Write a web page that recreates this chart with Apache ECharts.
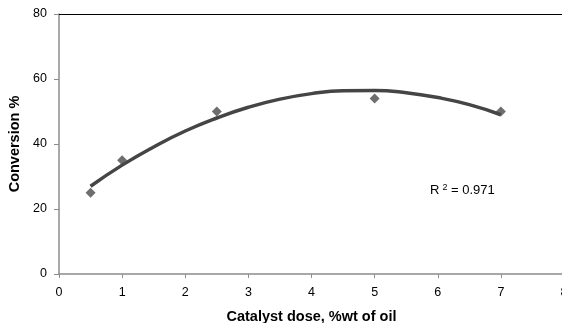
<!DOCTYPE html>
<html>
<head>
<meta charset="utf-8">
<script src="https://cdn.jsdelivr.net/npm/echarts@6/dist/echarts.min.js"></script>
<style>
  html, body { margin: 0; padding: 0; background: #fff; }
  #chart { width: 562px; height: 323px; }
</style>
</head>
<body>
<div id="chart"></div>
<script>
// measured points
var doseX = [0.5, 1, 2.5, 5, 7];
var conversionY = [25, 35, 50, 54, 50];
// polynomial trend line
var trendX = [0.5, 1, 1.5, 2, 2.5, 3, 3.5, 4, 4.5, 5, 5.5, 6, 6.5, 7];
var trendY = [27.0, 33.5, 39.1, 44.0, 48.0, 51.3, 53.8, 55.5, 56.4, 56.5, 55.8, 54.3, 52.1, 49.0];
var xTicks = [0, 1, 2, 3, 4, 5, 6, 7, 8];
var yTicks = [0, 20, 40, 60, 80];
var r2Text = '0.971';

var chart = echarts.init(document.getElementById('chart'));
var fontFam = '"Liberation Sans", Arial, sans-serif';

chart.setOption({
    animation: false,
    grid: { left: 59, top: 14, width: 505, height: 260, outerBoundsMode: 'none', containLabel: false },
    xAxis: [{
        type: 'value',
        min: xTicks[0], max: xTicks[xTicks.length - 1], interval: 1,
        name: 'Catalyst dose, %wt of oil',
        nameLocation: 'middle', nameGap: 35,
        nameTextStyle: { fontFamily: fontFam, fontWeight: 'bold', fontSize: 14.5, color: '#000' },
        axisLine: { lineStyle: { color: '#8c8c8c', width: 1.5 } },
        axisTick: { length: 4, lineStyle: { color: '#8c8c8c' } },
        axisLabel: { fontFamily: fontFam, fontSize: 12.5, color: '#000', margin: 12, showMaxLabel: true },
        splitLine: { show: false }
    }, {
        type: 'value', position: 'top',
        min: xTicks[0], max: xTicks[xTicks.length - 1],
        axisLine: { show: true, onZero: false, lineStyle: { color: '#000', width: 1.2 } },
        axisTick: { show: false }, axisLabel: { show: false }, splitLine: { show: false }
    }],
    yAxis: {
        type: 'value',
        min: yTicks[0], max: yTicks[yTicks.length - 1], interval: 20,
        name: 'Conversion %',
        nameLocation: 'middle', nameGap: 34, nameRotate: 90,
        nameTextStyle: { fontFamily: fontFam, fontWeight: 'bold', fontSize: 14.5, color: '#000' },
        axisLine: { show: true, lineStyle: { color: '#8c8c8c', width: 1.5 } },
        axisTick: { show: true, length: 5, lineStyle: { color: '#8c8c8c' } },
        axisLabel: { fontFamily: fontFam, fontSize: 12.5, color: '#000', margin: 12 },
        splitLine: { show: false }
    },
    series: [
        {
            type: 'line',
            data: trendX.map(function (x, i) { return [x, trendY[i]]; }),
            smooth: true,
            showSymbol: false,
            lineStyle: { color: '#454545', width: 3.5 },
            z: 2
        },
        {
            type: 'scatter',
            data: doseX.map(function (x, i) { return [x, conversionY[i]]; }),
            symbol: 'diamond',
            symbolSize: 10,
            itemStyle: { color: '#4a4a4a' },
            z: 3
        }
    ],
    graphic: [{
        type: 'text',
        left: 430, top: 183,
        style: {
            text: 'R{s|2} = ' + r2Text,
            fontFamily: fontFam, fontSize: 13, fill: '#000',
            rich: { s: { fontSize: 9, verticalAlign: 'top', padding: [0, 0, 6, 3] } }
        }
    }]
});
</script>
</body>
</html>
